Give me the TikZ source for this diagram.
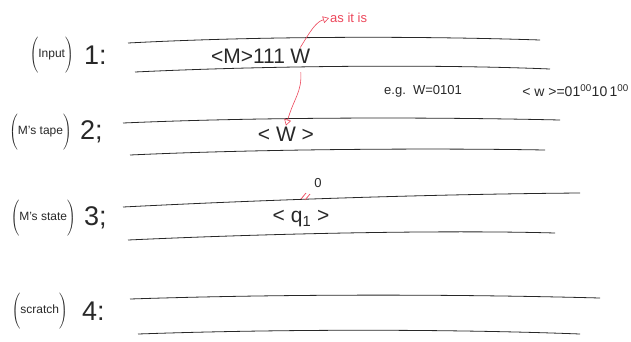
\documentclass[tikz,border=0pt]{standalone}
\usepackage{fontspec}
\setmainfont{Liberation Sans}
\usepackage{tikz}
\usetikzlibrary{positioning,arrows.meta}
\definecolor{tapeink}{RGB}{40,40,40}
\definecolor{penred}{RGB}{236,70,90}
\newcommand{\tapename}[1]{$\left(\rule[-13pt]{0pt}{34pt}\mbox{\fontsize{12}{13}\selectfont #1}\right)$}

\begin{document}
\begin{tikzpicture}[x=1pt, y=-1pt,
      tapeline/.style={line width=0.8pt, color=tapeink},
      tapelabel/.style={anchor=east, inner sep=0pt, color=tapeink},
      tapenum/.style={anchor=west, inner sep=0pt, font=\fontsize{27}{28}\selectfont, color=tapeink},
      content/.style={inner sep=1pt, font=\fontsize{21}{22}\selectfont, color=tapeink},
      note/.style={inner sep=1pt, font=\fontsize{13}{14}\selectfont, color=tapeink},
      redarrow/.style={-{Triangle[open,length=6pt,width=7pt]}, line width=0.6pt, color=penred}
    ]
    \useasboundingbox (0,0) rectangle (631,341);

    \node[tapelabel] (lbl1) at (74,55) {\tapename{Input}};
    \node[tapenum, right=10pt of lbl1] (num1) {1:};
    \node[tapelabel] (lbl2) at (72,132) {\tapename{M's tape}};
    \node[tapenum, right=8pt of lbl2] (num2) {2;};
    \node[tapelabel] (lbl3) at (76,218) {\tapename{M's state}};
    \node[tapenum, right=8pt of lbl3] (num3) {3;};
    \node[tapelabel] (lbl4) at (68,311) {\tapename{scratch}};
    \node[tapenum, right=14pt of lbl4] (num4) {4:};

    \draw[tapeline] (128,43) .. controls (260,36) and (420,36) .. (540,40);
    \draw[tapeline] (135,72) .. controls (260,66) and (430,64) .. (550,69);
    \draw[tapeline] (123,123) .. controls (260,117) and (430,117) .. (560,120);
    \draw[tapeline] (130,155) .. controls (260,149) and (430,148) .. (545,150);
    \draw[tapeline] (123,207) .. controls (280,199) and (450,194) .. (580,193);
    \draw[tapeline] (128,240) .. controls (280,233) and (450,230) .. (555,233);
    \draw[tapeline] (130,299) .. controls (280,294) and (450,294) .. (600,298);
    \draw[tapeline] (138,334) .. controls (280,329) and (450,329) .. (580,334);

    \node[content] (in1) at (248,56) {<M>111};
    \node[content, right=3pt of in1] (inw) {W};
    \node[content] (tp2) at (286,134) {< W >};
    \node[content] (st3) at (301,219) {< q\textsubscript{1} >};
    \node[note] (zero) at (318,183) {0};

    \node[note, color=penred, anchor=west] (asis) at (329,18) {as it is};
    \node[note, anchor=west] (eg) at (383,91) {e.g.\ \ W=0101};
    \node[note, anchor=east, font=\fontsize{14}{15}\selectfont] (enc) at (630,91)
      {< w >=01\textsuperscript{00}10\,1\textsuperscript{00}};

    \draw[redarrow] (inw.north) .. controls (311,30) and (316,22) .. (asis.west);
    \draw[redarrow, shorten <=8pt] (inw.south) .. controls (302,92) and (294,98) .. (tp2.north);
    \draw[penred, line width=0.7pt] (301,199) -- (306,193) (305,200) -- (310,194);
  \end{tikzpicture}
\end{document}
